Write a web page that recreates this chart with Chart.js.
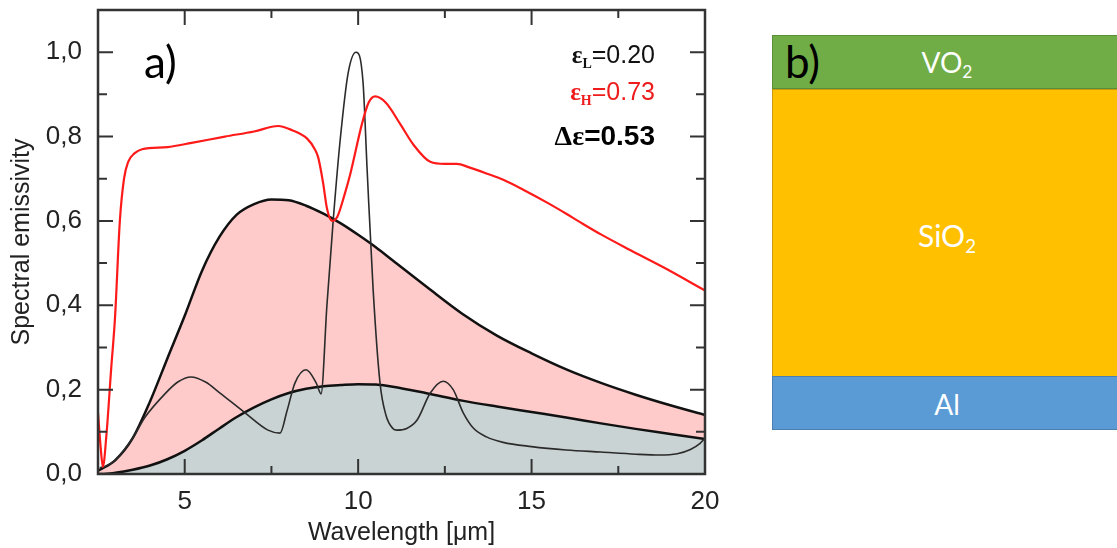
<!DOCTYPE html>
<html>
<head>
<meta charset="utf-8">
<script src="https://cdn.jsdelivr.net/npm/chart.js@4.4.1/dist/chart.umd.min.js"></script>
<style>
  body { margin: 0; width: 1117px; height: 548px; overflow: hidden; background: #fff; position: relative; font-family: "Liberation Sans", Arial, sans-serif; }
  #wrap { position: absolute; left: 0; top: 0; width: 720px; height: 548px; }
  .lbl { position: absolute; white-space: nowrap; }
  .eps { font-size: 25px; line-height: 25px; text-align: right; right: 462px; }
  .ser { font-family: "Liberation Serif", "Times New Roman", serif; font-weight: bold; }
  .ser sub { font-size: 14px; vertical-align: -5px; line-height: 0; }
  .layer { position: absolute; left: 772px; width: 350px; box-sizing: border-box; }
  .ltxt { position: absolute; left: 0; width: 350px; text-align: center; color: #fff; font-family: Lato, "Open Sans", sans-serif; }
  .ltxt sub { font-size: 0.62em; vertical-align: -0.3em; line-height: 0; }
  .tag { font-family: Lato, "Open Sans", sans-serif; font-size: 44px; line-height: 44px; color: #000; }
</style>
</head>
<body>
<div id="wrap"><canvas id="emis"></canvas></div>

<div class="lbl tag" style="left:144px; top:39px;">a)</div>
<div class="lbl eps" style="top:42px; color:#111;"><span class="ser">ε<sub>L</sub></span>=0.20</div>
<div class="lbl eps" style="top:79px; color:#ee1c1c;"><span class="ser">ε<sub>H</sub></span>=0.73</div>
<div class="lbl eps" style="top:122px; font-size:28px; line-height:28px; font-weight:bold; color:#000;"><span class="ser">Δε</span>=0.53</div>

<div class="layer" style="top:35px; height:54px; background:#70ad47; border:1px solid #5a8f38;"></div>
<div class="layer" style="top:89px; height:288px; background:#ffc000; border:1px solid #c99a10;"></div>
<div class="layer" style="top:376px; height:54px; background:#5b9bd5; border:1px solid #4a7fb0;"></div>
<div class="lbl ltxt" style="left:772px; top:48px; font-size:28px; line-height:28px;">VO<sub>2</sub></div>
<div class="lbl ltxt" style="left:772px; top:220px; font-size:30px; line-height:30px;">SiO<sub>2</sub></div>
<div class="lbl ltxt" style="left:772px; top:390px; font-size:28px; line-height:28px;">Al</div>
<div class="lbl tag" style="left:785px; top:39px;">b)</div>

<script>
// wavelength grid shared by the two black-body curves
var planckX = [2.5, 2.6, 3, 3.5, 4, 4.5, 5, 5.5, 6, 6.5, 7, 7.5, 8, 8.5, 9, 9.5, 10, 10.5, 11, 12, 13, 14, 15, 16, 17, 18, 19, 20];
var planckHigh = [0.008, 0.012, 0.033, 0.085, 0.172, 0.274, 0.375, 0.482, 0.562, 0.615, 0.64, 0.651, 0.649, 0.636, 0.617, 0.594, 0.567, 0.538, 0.506, 0.442, 0.38, 0.328, 0.286, 0.248, 0.216, 0.188, 0.163, 0.14];
var planckLow = [0.0, 0.0, 0.003, 0.01, 0.02, 0.035, 0.055, 0.08, 0.108, 0.135, 0.158, 0.177, 0.192, 0.202, 0.208, 0.211, 0.213, 0.212, 0.207, 0.191, 0.174, 0.16, 0.147, 0.134, 0.12, 0.107, 0.095, 0.083];

// VO2 hot state (red)
var hotX = [2.5, 2.58, 2.64, 2.75, 2.88, 2.99, 3.13, 3.25, 3.37, 3.55, 3.77, 4.5, 5.2, 6.16, 7.0, 7.69, 8.1, 8.53, 8.75, 8.85, 8.99, 9.1, 9.25, 9.4, 9.6, 9.77, 10.11, 10.3, 10.49, 10.8, 11.21, 11.6, 12.08, 12.5, 12.85, 13.2, 13.72, 14.2, 14.76, 15.5, 16.0, 16.4, 17.0, 17.84, 18.8, 20];
var hotY = [0.145, 0.06, 0.017, 0.1, 0.25, 0.37, 0.6, 0.7, 0.74, 0.76, 0.77, 0.775, 0.785, 0.8, 0.812, 0.825, 0.815, 0.795, 0.77, 0.75, 0.69, 0.63, 0.6, 0.61, 0.66, 0.71, 0.83, 0.88, 0.895, 0.88, 0.83, 0.78, 0.74, 0.735, 0.735, 0.727, 0.712, 0.697, 0.674, 0.641, 0.617, 0.597, 0.568, 0.531, 0.49, 0.435];

// VO2 cold state (thin dark)
var coldX = [2.55, 2.7, 3.0, 3.5, 3.86, 4.43, 4.8, 5.18, 5.6, 6.0, 6.74, 7.4, 7.75, 7.95, 8.18, 8.5, 8.79, 8.93, 9.1, 9.28, 9.48, 9.71, 9.94, 10.14, 10.26, 10.43, 10.63, 10.8, 11.0, 11.12, 11.4, 11.7, 12.08, 12.45, 12.74, 13.03, 13.32, 13.7, 14.18, 15.0, 16.0, 17.0, 18.0, 18.7, 19.2, 19.58, 19.85, 20];
var coldY = [0.015, 0.018, 0.033, 0.085, 0.135, 0.19, 0.218, 0.23, 0.218, 0.193, 0.145, 0.104, 0.097, 0.15, 0.216, 0.247, 0.216, 0.19, 0.4, 0.6, 0.79, 0.95, 1.0, 0.93, 0.72, 0.44, 0.216, 0.14, 0.108, 0.104, 0.108, 0.128, 0.192, 0.22, 0.2, 0.145, 0.109, 0.088, 0.075, 0.065, 0.057, 0.052, 0.047, 0.045, 0.048, 0.058, 0.072, 0.085];

var xMajorTicks = [5, 10, 15, 20];
var xMinorTicks = [7.5, 12.5, 17.5];
var yMajorTicks = [0, 0.2, 0.4, 0.6, 0.8, 1.0];
var yMinorTicks = [0.1, 0.3, 0.5, 0.7, 0.9];

function pts(xs, ys) {
  return xs.map(function (x, i) { return { x: x, y: ys[i] }; });
}

function noPad(s) {
  s.paddingTop = 0; s.paddingBottom = 0; s.paddingLeft = 0; s.paddingRight = 0;
}

var frame = {
  id: 'frame',
  afterDatasetsDraw: function (chart) {
    var c = chart.ctx, a = chart.chartArea, sx = chart.scales.x, sy = chart.scales.y;
    c.save();
    c.strokeStyle = '#333';
    c.lineWidth = 2;
    c.beginPath();
    function xt(v, len) {
      var p = sx.getPixelForValue(v);
      c.moveTo(p, a.bottom); c.lineTo(p, a.bottom - len);
      c.moveTo(p, a.top); c.lineTo(p, a.top + len);
    }
    function yt(v, len) {
      var p = sy.getPixelForValue(v);
      c.moveTo(a.left, p); c.lineTo(a.left + len, p);
      c.moveTo(a.right, p); c.lineTo(a.right - len, p);
    }
    xMajorTicks.forEach(function (v) { xt(v, 15); });
    xMinorTicks.forEach(function (v) { xt(v, 8); });
    yMajorTicks.forEach(function (v) { yt(v, 15); });
    yMinorTicks.forEach(function (v) { yt(v, 9); });
    c.stroke();
    c.lineWidth = 2.5;
    c.strokeRect(a.left, a.top, a.right - a.left, a.bottom - a.top);
    c.restore();
  }
};

var tickFont = { family: '"Liberation Sans", Arial, sans-serif', size: 26 };
var titleFont = { family: '"Liberation Sans", Arial, sans-serif', size: 25 };

new Chart(document.getElementById('emis'), {
  type: 'line',
  data: {
    datasets: [
      { label: 'hot', data: pts(hotX, hotY), borderColor: '#ff1a1a', borderWidth: 2.2, fill: false },
      { label: 'cold', data: pts(coldX, coldY), borderColor: '#2b2b2b', borderWidth: 1.6, fill: false },
      { label: 'bbHigh', data: pts(planckX, planckHigh), borderColor: '#111', borderWidth: 2.5, fill: { target: 3 }, backgroundColor: '#ffcaca' },
      { label: 'bbLow', data: pts(planckX, planckLow), borderColor: '#111', borderWidth: 2.5, fill: 'origin', backgroundColor: '#cad3d3' }
    ]
  },
  options: {
    responsive: true,
    maintainAspectRatio: false,
    animation: false,
    layout: { padding: { top: 10, right: 15, left: 0, bottom: 0 } },
    elements: { point: { radius: 0 }, line: { cubicInterpolationMode: 'monotone' } },
    plugins: {
      legend: { display: false },
      tooltip: { enabled: false },
      filler: { drawTime: 'beforeDatasetsDraw' }
    },
    scales: {
      x: {
        type: 'linear', min: 2.5, max: 20,
        afterBuildTicks: function (s) { s.ticks = xMajorTicks.map(function (v) { return { value: v }; }); },
        afterFit: function (s) { s.height = 74; noPad(s); },
        grid: { display: false, drawTicks: false },
        border: { display: false },
        ticks: { font: tickFont, color: '#222', padding: 12, maxRotation: 0, autoSkip: false, callback: function (v) { return String(v); } },
        title: { display: true, text: 'Wavelength [μm]', font: titleFont, color: '#222', padding: { top: 0, bottom: 0 } }
      },
      y: {
        min: 0, max: 1.1,
        afterBuildTicks: function (s) { s.ticks = yMajorTicks.map(function (v) { return { value: v }; }); },
        afterFit: function (s) { s.width = 98; noPad(s); },
        grid: { display: false, drawTicks: false },
        border: { display: false },
        ticks: { font: tickFont, color: '#222', padding: 16, autoSkip: false, callback: function (v) { return v.toFixed(1).replace('.', ','); } },
        title: { display: true, text: 'Spectral emissivity', font: titleFont, color: '#222', padding: { top: 7, bottom: 0 } }
      }
    }
  },
  plugins: [frame]
});
</script>
</body>
</html>
